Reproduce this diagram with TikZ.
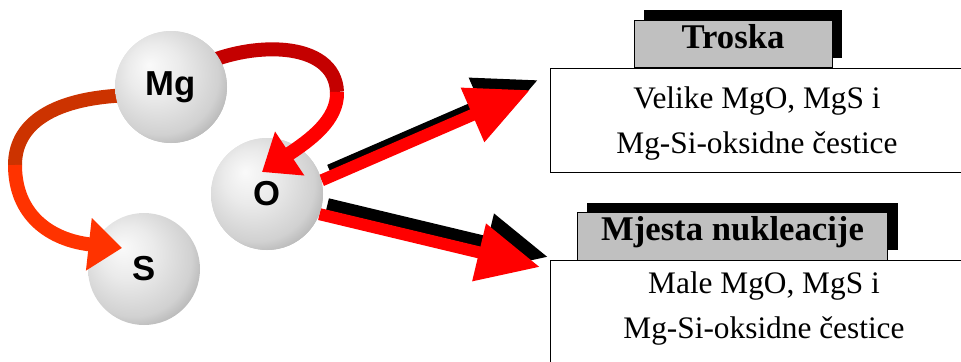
\documentclass[tikz,border=0pt]{standalone}
\usepackage{fontspec}
\setmainfont{Liberation Serif}
\setsansfont{Liberation Sans}
\usepackage{tikz}
\usetikzlibrary{arrows.meta,shadows}
\definecolor{ribbonOneDark}{HTML}{C40000}
\definecolor{ribbonOneLight}{HTML}{FF0000}
\definecolor{ribbonTwoDark}{HTML}{CC3300}
\definecolor{ribbonTwoLight}{HTML}{FF3300}
\definecolor{labelGray}{HTML}{C0C0C0}
\pgfdeclareradialshading{atomshade}{\pgfpoint{-10bp}{10bp}}{%
  color(0bp)=(white!98!black); color(12bp)=(white!92!black);
  color(26bp)=(white!82!black); color(38bp)=(white!58!black);
  color(50bp)=(white!58!black)}
\tikzset{
  atom/.style = {circle, shading=atomshade, minimum size=84pt, inner sep=0pt,
                 font=\sffamily\bfseries\fontsize{26}{30}\selectfont},
  ribbon/.style = {line width=10.5pt},
  ribbonTip/.style = {-{Triangle[width=38pt, length=25pt]}},
  flowArrow/.style = {line width=9pt, draw=red, -{Triangle[width=42pt, length=47pt]}},
  flowShadow/.style = {flowArrow, draw=black},
  mainBox/.style = {draw=black, line width=0.6pt, inner sep=0pt, anchor=north west,
                    minimum width=311pt},
  labelBox/.style = {draw=black, line width=0.6pt, fill=labelGray, inner sep=0pt,
                     minimum height=35.5pt, text height=0.65em, text depth=0pt,
                     font=\bfseries\fontsize{26}{30}\selectfont,
                     drop shadow={shadow xshift=7.5pt, shadow yshift=7.5pt,
                                  fill=black, opacity=1}},
  infoText/.style = {align=center, inner sep=0pt,
                     font=\fontsize{23.5}{33.75}\selectfont}
}

\begin{document}
\begin{tikzpicture}[x=0.75pt, y=-0.75pt]
  \useasboundingbox (0,0) rectangle (961,361);

  \node [mainBox, minimum height=78pt] (troskaBox) at (550,68) {};
  \node [mainBox, minimum height=82.5pt] (nukleBox) at (550,260) {};
  \node [labelBox, minimum width=148.5pt] (troska) at (733,44) {Troska};
  \node [labelBox, minimum width=233pt] (nukle) at (732.5,236.5) {Mjesta nukleacije};
  \node [infoText] (velike) at (757,124) {Velike MgO, MgS i\\Mg-Si-oksidne čestice};
  \node [infoText] (male) at (764,309) {Male MgO, MgS i\\Mg-Si-oksidne čestice};

  \node [atom] (s) at (144,269) {S};
  \node [atom] (o) at (267,194) {};

  \coordinate (tipTroska) at ([shift={(-20,22)}]troskaBox.north west);
  \coordinate (tipNukle) at ([shift={(-10,7)}]nukleBox.north west);
  \draw [flowShadow] ([shift={(8,-10)}]o.14) -- ([shift={(8,-10)}]tipTroska);
  \draw [flowArrow] (o.14) -- (tipTroska);
  \draw [flowShadow] ([shift={(8,-10)}]o.-21) -- ([shift={(8,-10)}]tipNukle);
  \draw [flowArrow] (o.-21) -- (tipNukle);

  \node [atom] (o) at (267,194) {O};
  \node [atom] (mg) at (171,87) {};

  \coordinate (twistO) at (337,92);
  \coordinate (tipO) at ([shift={(-5,-22)}]o.center);
  \draw [ribbon, draw=ribbonOneDark] ([shift={(24,-19)}]mg.center)
        .. controls (250,40) and (335,40) .. (twistO);
  \draw [ribbon, ribbonTip, draw=ribbonOneLight] (twistO)
        .. controls (338,120) and (310,140) .. (tipO);

  \coordinate (twistS) at (15,165);
  \coordinate (tipS) at ([shift={(-22,-21)}]s.center);
  \draw [ribbon, draw=ribbonTwoDark] ([shift={(-31,8)}]mg.center)
        .. controls (60,95) and (15,120) .. (twistS);
  \draw [ribbon, ribbonTip, draw=ribbonTwoLight] (twistS)
        .. controls (15,215) and (50,240) .. (tipS);

  \node [atom] (mg) at (171,87) {Mg};
\end{tikzpicture}
\end{document}
